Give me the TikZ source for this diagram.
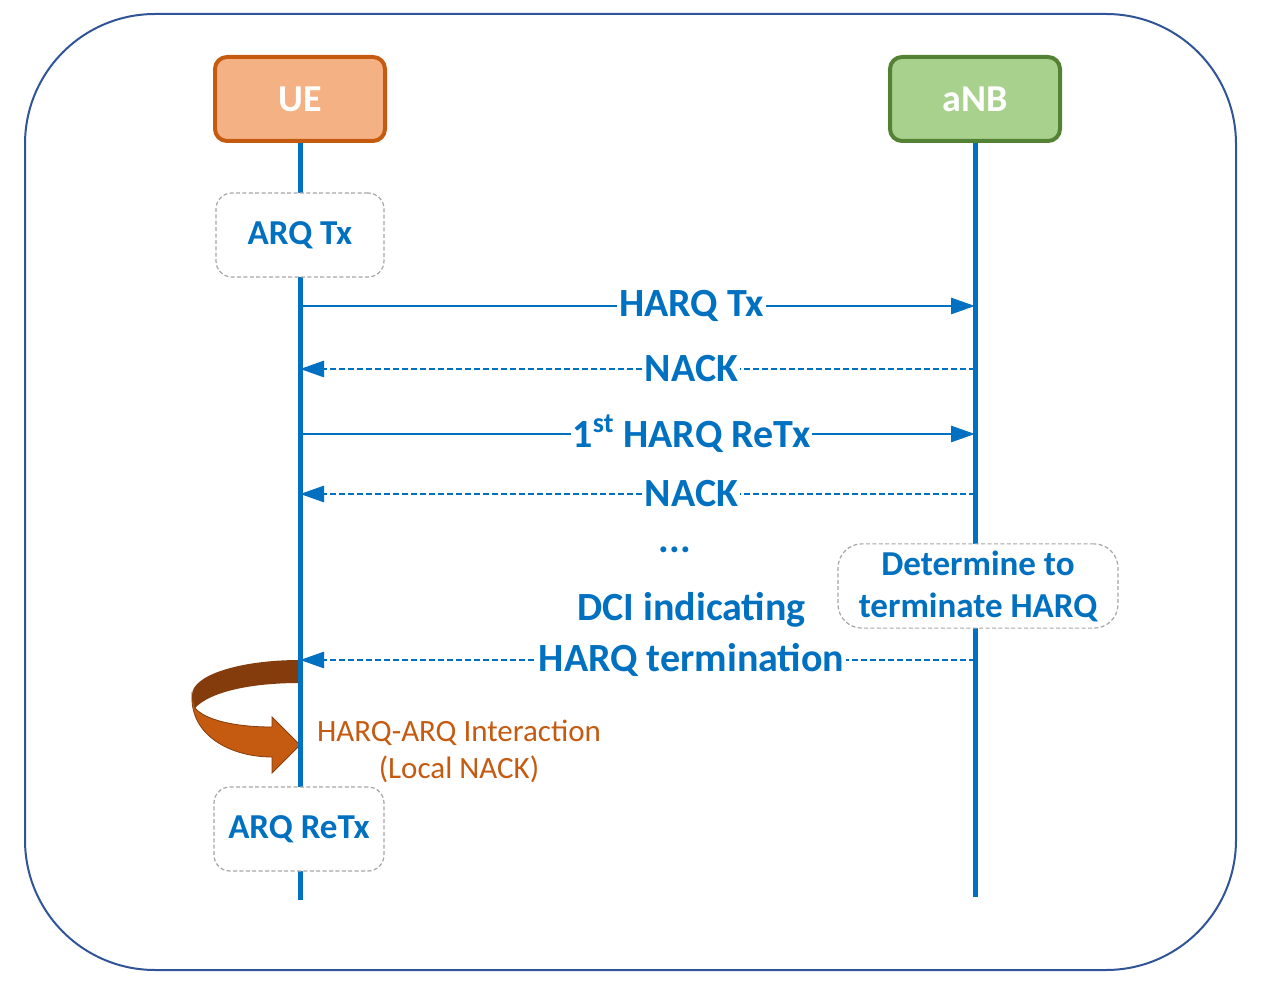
\documentclass[tikz,border=0pt]{standalone}
\usepackage{fontspec}
\setmainfont{Carlito}
\usepackage{tikz}
\usetikzlibrary{arrows.meta, positioning}
\definecolor{lineblue}{HTML}{0070C0}
\definecolor{frameblue}{HTML}{2F5597}
\definecolor{uefill}{HTML}{F4B183}
\definecolor{uedraw}{HTML}{C55A11}
\definecolor{anbfill}{HTML}{A9D18E}
\definecolor{anbdraw}{HTML}{548235}
\definecolor{loopdark}{HTML}{843C0C}
\definecolor{dashgray}{HTML}{A6A6A6}
\tikzstyle{entity} = [rectangle, rounded corners=6pt, minimum width=85pt, minimum height=42pt, line width=2pt, text=white, font=\fontsize{19}{22}\selectfont\bfseries]
\tikzstyle{action} = [rectangle, rounded corners=8pt, draw=dashgray, dash pattern=on 2pt off 1.2pt, line width=0.6pt, fill=white, text=lineblue, align=center, minimum height=42pt, font=\fontsize{17.5}{21}\selectfont\bfseries]
\tikzstyle{lifeline} = [lineblue, line width=2.5pt]
\tikzstyle{msg} = [lineblue, line width=1.4pt, -{Triangle[length=12pt,width=8pt]}]
\tikzstyle{reply} = [msg, dash pattern=on 3pt off 1.5pt]
\tikzstyle{lbl} = [fill=white, inner sep=1pt, text=lineblue, font=\fontsize{20}{24}\selectfont\bfseries]

\begin{document}
\begin{tikzpicture}[x=0.5pt, y=-0.5pt]
\useasboundingbox (0,0) rectangle (1264,989);
\draw [frameblue, line width=1pt, rounded corners=65pt] (25,14) rectangle (1236,970);

% local NACK loop
\fill [loopdark] (300,660) .. controls (240,660) and (192,675) .. (192,695) -- (195,708) .. controls (210,692) and (250,683) .. (300,683) -- cycle;
\filldraw [fill=uedraw, draw=loopdark, line width=0.4pt] (192,695) .. controls (190,735) and (230,757) .. (272,757) -- (272,773) -- (300,745) -- (272,717) -- (272,727) .. controls (235,727) and (205,720) .. (195,708) -- cycle;

\node (ue) [entity, fill=uefill, draw=uedraw] at (300,99) {UE};
\node (anb) [entity, fill=anbfill, draw=anbdraw] at (975,99) {aNB};
\coordinate (ueend) at (300,900);
\coordinate (anbend) at (975,897);
\draw [lifeline] (ue.south) -- (ueend);
\draw [lifeline] (anb.south) -- (anbend);

\node (arqtx) [action, minimum width=84pt] at (300,235) {ARQ Tx};
\node (decide) [action, minimum width=140pt, rounded corners=12pt] at (978,586) {Determine to\\terminate HARQ};
\node (arqretx) [action, minimum width=85pt] at (299,829) {ARQ ReTx};

\coordinate (m1) at (0,306);
\coordinate (m2) at (0,369);
\coordinate (m3) at (0,434);
\coordinate (m4) at (0,494);
\coordinate (m5) at (0,660);

\draw [msg] (ue |- m1) -- node[lbl, pos=0.58] {HARQ Tx} (anb |- m1);
\draw [reply] (anb |- m2) -- node[lbl, pos=0.42] {NACK} (ue |- m2);
\draw [msg] (ue |- m3) -- node[lbl, pos=0.58] {1\textsuperscript{st} HARQ ReTx} (anb |- m3);
\draw [reply] (anb |- m4) -- node[lbl, pos=0.42] {NACK} (ue |- m4);
\node (dots) [lbl] at (675,550) {...};
\draw [reply] (anb |- m5) -- node[lbl, pos=0.42] (term) {HARQ termination} (ue |- m5);
\node (dci) [lbl, above of=term, node distance=25pt] {DCI indicating};

\node (interact) [text=uedraw, align=center, font=\fontsize{15.5}{18.5}\selectfont] at (459,751) {HARQ-ARQ Interaction\\(Local NACK)};

\end{tikzpicture}
\end{document}
